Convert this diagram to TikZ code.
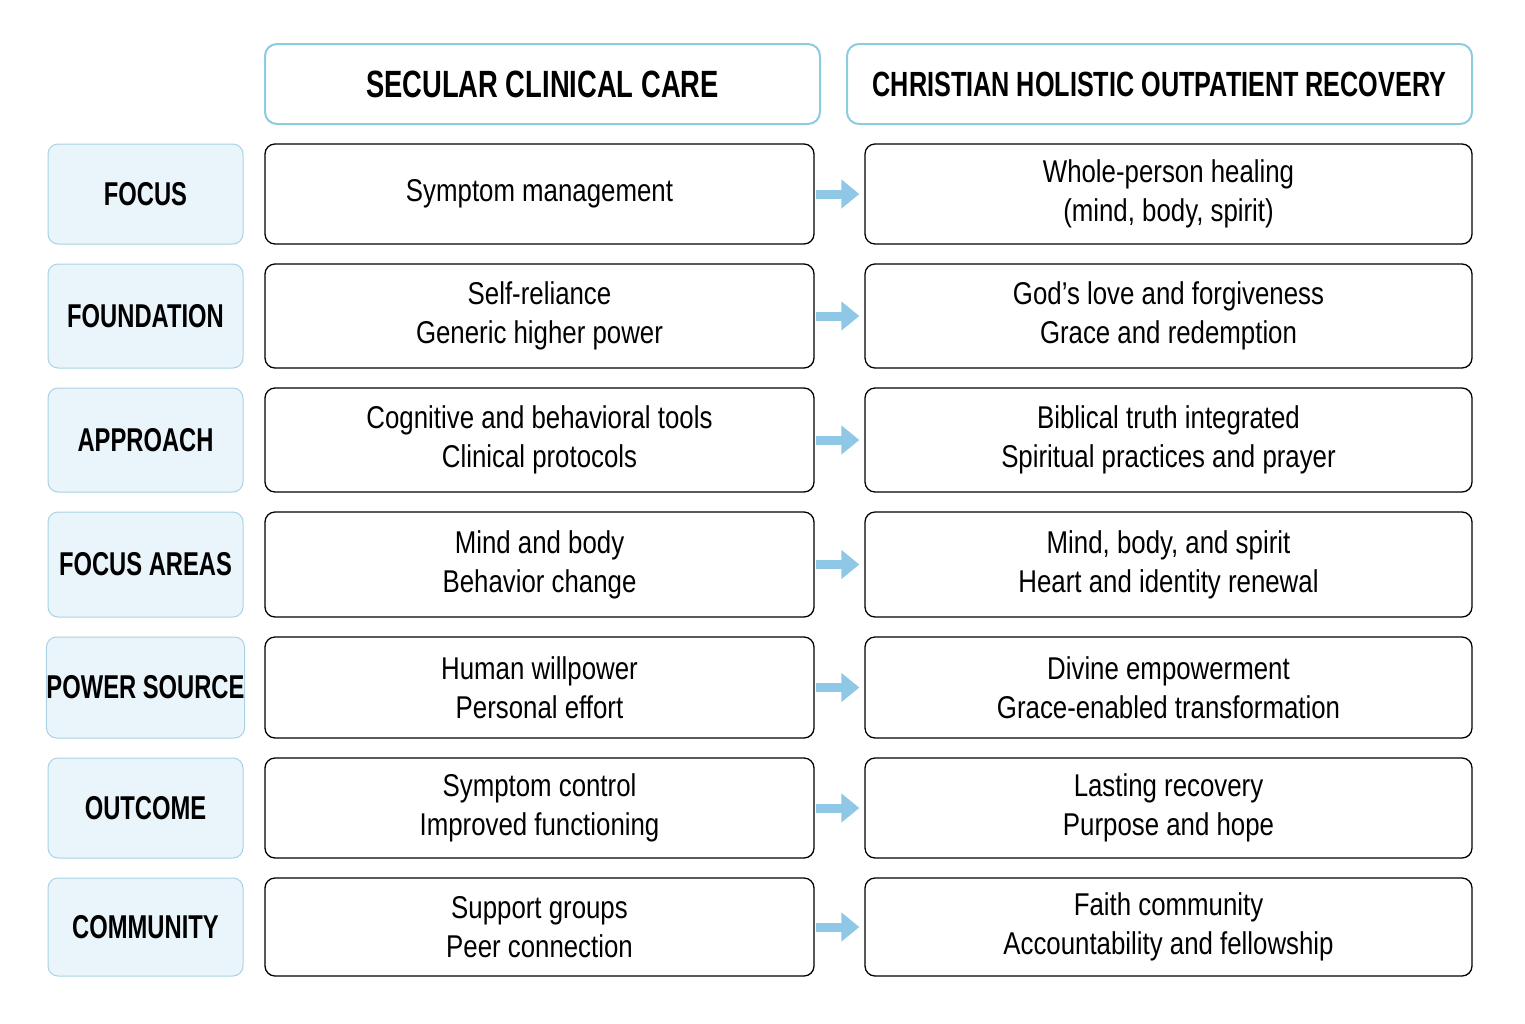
\documentclass[tikz,border=0pt]{standalone}
\usepackage{fontspec}
\setmainfont{Liberation Sans}[FakeStretch=0.82]
\newfontfamily\condf{Liberation Sans}[FakeStretch=0.72]
\usetikzlibrary{arrows.meta}
\definecolor{lblue}{HTML}{EAF4FB}
\definecolor{lbord}{HTML}{A9D3E3}
\definecolor{hbord}{HTML}{8CCCE0}
\definecolor{arr}{HTML}{8FC7E6}
\begin{document}
\begin{tikzpicture}[x=1pt,y=-1pt,
 lab/.style={draw=lbord,fill=lblue,rounded corners=10pt,line width=1pt,inner sep=0pt,font=\condf\fontsize{33}{36}\selectfont\bfseries},
 box/.style={draw=black,rounded corners=10pt,line width=1.3pt,inner sep=0pt,align=center,font=\fontsize{31.5}{39}\selectfont},
 hdr/.style={draw=hbord,rounded corners=12pt,line width=2pt,inner sep=0pt,font=\condf\fontsize{35}{40}\selectfont\bfseries},
 ar/.style={arr,line width=9pt,-{Triangle[length=18pt,width=28pt]}}]
\useasboundingbox (0,0) rectangle (1525,1023);
\node[hdr,minimum width=555pt,minimum height=80pt] (h1) at (542.5,84) {\fontsize{38}{40}\selectfont SECULAR CLINICAL CARE};
\node[hdr,minimum width=625pt,minimum height=80pt] (h2) at (1159.5,84) {CHRISTIAN HOLISTIC OUTPATIENT RECOVERY};
\foreach \i/\t/\b/\L/\A/\B in {
1/144/244/FOCUS/{Symptom management}/{Whole-person healing\\(mind, body, spirit)},
2/264/368/FOUNDATION/{Self-reliance\\Generic higher power}/{God’s love and forgiveness\\Grace and redemption},
3/388/492/APPROACH/{Cognitive and behavioral tools\\Clinical protocols}/{Biblical truth integrated\\Spiritual practices and prayer},
4/512/617/FOCUS AREAS/{Mind and body\\Behavior change}/{Mind, body, and spirit\\Heart and identity renewal},
5/637/738/POWER SOURCE/{Human willpower\\Personal effort}/{Divine empowerment\\Grace-enabled transformation},
6/758/858/OUTCOME/{Symptom control\\Improved functioning}/{Lasting recovery\\Purpose and hope},
7/878/976/COMMUNITY/{Support groups\\Peer connection}/{Faith community\\Accountability and fellowship}}{
 \pgfmathsetmacro\c{(\t+\b)/2}
 \pgfmathsetmacro\h{\b-\t}
 \node[lab,minimum width=195pt,minimum height=\h pt] (l\i) at (145.5,\c) {\L};
 \node[box,minimum width=549pt,minimum height=\h pt] (m\i) at (539.5,\c) {\A};
 \node[box,minimum width=607pt,minimum height=\h pt] (r\i) at (1168.5,\c) {\B};
 \draw[ar] ([xshift=1pt]m\i.east) -- ([xshift=-5pt]r\i.west);
}
\end{tikzpicture}
\end{document}
